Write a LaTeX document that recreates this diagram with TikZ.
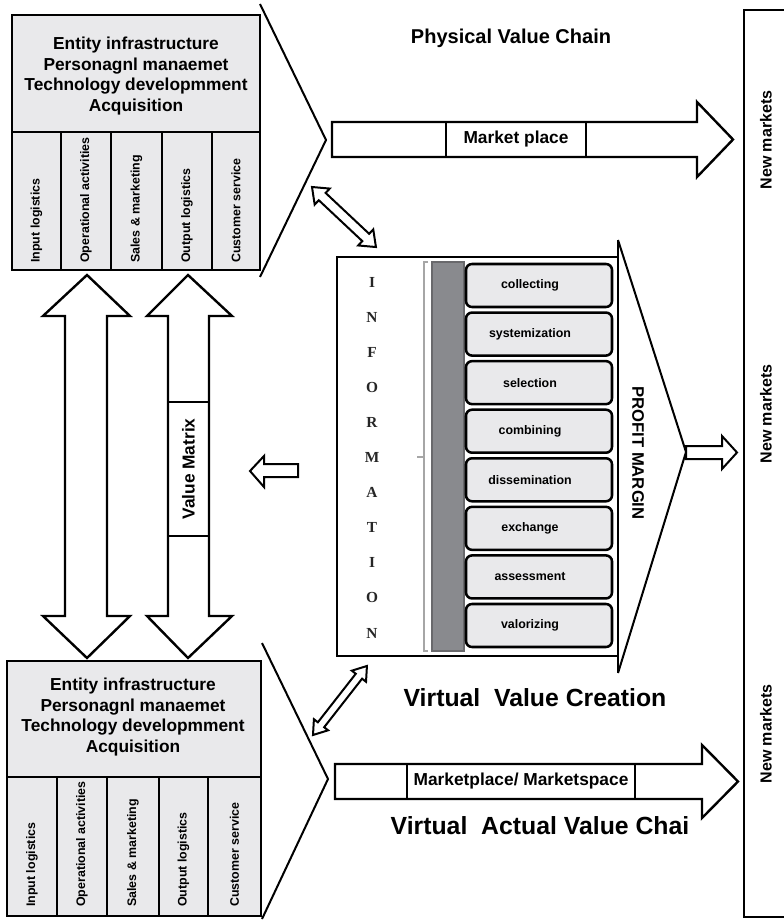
\documentclass[tikz,border=0pt]{standalone}
\usepackage{fontspec}
\setmainfont{Liberation Sans}
\newfontfamily\infofont{Liberation Serif}
\usetikzlibrary{fit}
\definecolor{lg}{RGB}{233,233,235}
\definecolor{barg}{RGB}{137,138,142}
\definecolor{bard}{RGB}{105,105,108}
\begin{document}
\begin{tikzpicture}[x=0.75pt,y=-0.75pt,
  blk/.style={draw, line width=2pt, fill=lg, inner sep=0},
  chev/.style={draw, line width=1.5pt, line join=miter},
  arr/.style={draw, line width=1.8pt, fill=white, line join=miter},
  thinarr/.style={draw, line width=1.5pt, fill=white, line join=miter},
  divl/.style={line width=2pt},
  head/.style={font=\bfseries\fontsize{13}{15.5}\selectfont, align=center, inner sep=0},
  coltxt/.style={font=\bfseries\fontsize{9.3}{11}\selectfont, rotate=90, anchor=west, inner sep=0},
  title/.style={font=\bfseries\fontsize{15}{18}\selectfont, inner sep=0},
  bigtitle/.style={font=\bfseries\fontsize{18.6}{22}\selectfont, inner sep=0},
  mid/.style={font=\bfseries\fontsize{13}{15}\selectfont, inner sep=0},
  stepbox/.style={draw, line width=1.9pt, rounded corners=4.5pt, fill=lg, inner sep=0},
  steptxt/.style={font=\bfseries\fontsize{9.3}{11}\selectfont, inner sep=0},
  infotxt/.style={font=\infofont\bfseries\fontsize{11.5}{13}\selectfont, text=black!85, inner sep=0},
  newm/.style={font=\bfseries\fontsize{12}{14}\selectfont, rotate=90, inner sep=0}
]
\useasboundingbox (0,0) rectangle (784,923);
\clip (0,0) rectangle (784,923);

% ---------- right bar ----------
\node[draw, line width=2pt, inner sep=0, fit={(744,10)(800,917)}] (bar) {};
\node[newm] (nm1) at (766,140) {New markets};
\node[newm] (nm2) at (766,414) {New markets};
\node[newm] (nm3) at (766,734) {New markets};

% ---------- top left block ----------
\draw[chev] (260,4) -- (326,140) -- (260,277);
\node[blk, fit={(12,15)(260,270)}] (pb) {};
\draw[divl] (12,132) -- (260,132);
\foreach \x in {61,111,162,212} \draw[divl] (\x,132) -- (\x,270);
\node[head] (ph) at (136,76) {Entity infrastructure\\Personagnl manaemet\\Technology developmment\\Acquisition};
\node[coltxt] (pc1) at (36.5,263) {Input logistics};
\node[coltxt] (pc2) at (86,263) {Operational activities};
\node[coltxt] (pc3) at (136.5,263) {Sales \& marketing};
\node[coltxt] (pc4) at (187,263) {Output logistics};
\node[coltxt] (pc5) at (236,263) {Customer service};

% ---------- bottom left block ----------
\draw[chev] (262,643) -- (328,779) -- (262,919);
\node[blk, fit={(7,661)(261,916)}] (vb) {};
\draw[divl] (7,777) -- (261,777);
\foreach \x in {57,107,159,208} \draw[divl] (\x,777) -- (\x,916);
\node[head] (vh) at (133,717) {Entity infrastructure\\Personagnl manaemet\\Technology developmment\\Acquisition};
\node[coltxt] (vc1) at (32,907) {Input logistics};
\node[coltxt] (vc2) at (82,907) {Operational activities};
\node[coltxt] (vc3) at (133,907) {Sales \& marketing};
\node[coltxt] (vc4) at (183.5,907) {Output logistics};
\node[coltxt] (vc5) at (234.5,907) {Customer service};

% ---------- titles ----------
\node[title] (t1) at (511,38) {Physical Value Chain};
\node[bigtitle] (t2) at (535,698) {Virtual\ \ Value Creation};
\node[bigtitle] (t3) at (540,826) {Virtual\ \ Actual Value Chai};

% ---------- market place arrow ----------
\draw[arr] (332,122) -- (697,122) -- (697,102) -- (733,139.5) -- (697,177) -- (697,157) -- (332,157) -- cycle;
\draw[divl] (446,122) -- (446,157);
\draw[divl] (586,122) -- (586,157);
\node[mid] (mp) at (516,139.5) {Market place};

% ---------- marketplace / marketspace arrow ----------
\draw[arr] (335,764) -- (702,764) -- (702,745) -- (738,781.5) -- (702,818) -- (702,799) -- (335,799) -- cycle;
\draw[divl] (407,764) -- (407,799);
\draw[divl] (635,764) -- (635,799);
\node[mid] (ms) at (521,781.5) {Marketplace/ Marketspace};

% ---------- vertical double arrows ----------
\draw[arr] (87,275) -- (130,316) -- (107,316) -- (107,616) -- (130,616) -- (87,658) -- (43,616) -- (65,616) -- (65,316) -- (43,316) -- cycle;
\draw[arr] (188,275) -- (232,316) -- (209,316) -- (209,616) -- (232,616) -- (188,658) -- (147,616) -- (168,616) -- (168,316) -- (147,316) -- cycle;
\draw[divl] (168,402) -- (209,402);
\draw[divl] (168,536) -- (209,536);
\node[mid, rotate=90] (vm) at (188.5,469) {Value Matrix};

% ---------- small arrows ----------
\draw[thinarr] (298,464) -- (264,464) -- (264,456) -- (250,471) -- (264,487) -- (264,477) -- (298,477) -- cycle;
\draw[thinarr] (686,446) -- (722,446) -- (722,436) -- (737,452.5) -- (722,469) -- (722,459) -- (686,459) -- cycle;

% diagonal double arrows
\begin{scope}[shift={(312,187)}, rotate=-43.2]
\draw[thinarr] (0,0) -- (14,11) -- (14,5) -- (73.7,5) -- (73.7,11) -- (87.7,0) -- (73.7,-11) -- (73.7,-5) -- (14,-5) -- (14,-11) -- cycle;
\end{scope}
\begin{scope}[shift={(313,735)}, rotate=52]
\draw[thinarr] (0,0) -- (13,9) -- (13,4) -- (74.6,4) -- (74.6,9) -- (87.6,0) -- (74.6,-9) -- (74.6,-4) -- (13,-4) -- (13,-9) -- cycle;
\end{scope}

% ---------- information block ----------
\draw[chev] (618,240) -- (686,452) -- (618,673);
\node[draw, line width=2pt, fill=white, inner sep=0, fit={(337,257)(618,656)}] (info) {};
\draw[chev] (618,240) -- (618,673);
\node[draw=bard, fill=barg, line width=1pt, inner sep=0, fit={(432,262)(464,651)}] (gbar) {};
\draw[gray!70, line width=0.8pt] (428,262) -- (424,262) -- (424,651) -- (428,651);
\draw[gray!70, line width=0.8pt] (424,457) -- (417,457);
\foreach \c [count=\i from 0] in {I,N,F,O,R,M,A,T,I,O,N} {
  \pgfmathsetmacro\yy{282+35.1*\i}
  \node[infotxt] (inf\i) at (372,\yy) {\c};
}
\foreach \lab [count=\i from 0] in {collecting,systemization,selection,combining,dissemination,exchange,assessment,valorizing} {
  \pgfmathsetmacro\tt{264+48.57*\i}
  \pgfmathsetmacro\bb{\tt+43}
  \pgfmathsetmacro\mm{\tt+21.5}
  \node[stepbox, fit={(466,\tt)(612,\bb)}] (s\i) {};
  \node[steptxt] (st\i) at (530,\mm) {\lab};
}
\node[mid, font=\bfseries\fontsize{12.5}{15}\selectfont, rotate=-90] (pm) at (638,453) {PROFIT MARGIN};
\end{tikzpicture}
\end{document}
